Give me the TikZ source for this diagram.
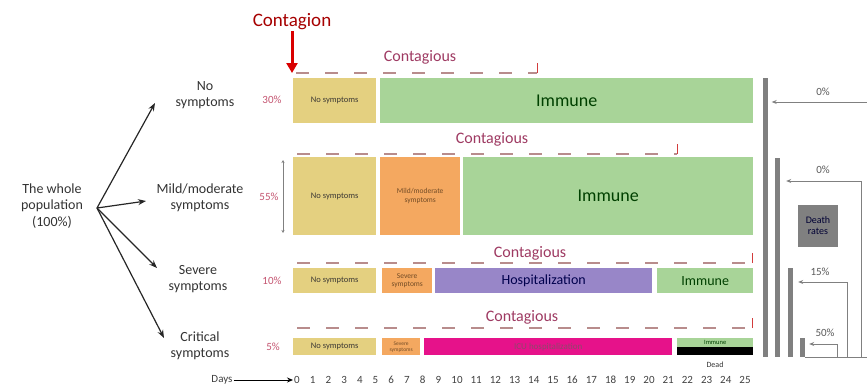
\documentclass[tikz,border=0pt]{standalone}
\usepackage{fontspec}
\setmainfont{Carlito}
\usetikzlibrary{arrows.meta}

\definecolor{symyel}{RGB}{228,208,128}
\definecolor{symorg}{RGB}{244,168,96}
\definecolor{immgrn}{RGB}{168,212,152}
\definecolor{hospvio}{RGB}{152,134,200}
\definecolor{icupink}{RGB}{230,18,138}
\definecolor{pctred}{RGB}{196,84,112}
\definecolor{contred}{RGB}{158,58,98}
\definecolor{dashgray}{RGB}{184,140,140}
\definecolor{tickred}{RGB}{210,60,60}
\definecolor{deathgray}{RGB}{128,128,128}

\begin{document}
\begin{tikzpicture}[
  x=1pt, y=-1pt,
  every node/.style={font=\fontsize{14}{16.5}\selectfont, align=center, inner sep=1pt, text=black!80},
  phase/.style={anchor=north west, inner sep=0pt, font=\fontsize{8.5}{9.5}\selectfont},
  nosym/.style={phase, fill=symyel, text=black!70!yellow!40!black},
  mildb/.style={phase, fill=symorg, text=brown!60!black},
  immune/.style={phase, fill=immgrn, text=green!25!black},
  hosp/.style={phase, fill=hospvio, text=blue!30!black, font=\fontsize{14}{16}\selectfont},
  icu/.style={phase, fill=icupink, text=magenta!50!black, font=\fontsize{9}{10}\selectfont},
  deadb/.style={phase, fill=black},
  grp/.style={font=\fontsize{14}{16.5}\selectfont},
  pct/.style={text=pctred, font=\fontsize{11}{12}\selectfont},
  cont/.style={text=contred, font=\fontsize{16}{18}\selectfont},
  contline/.style={draw=dashgray, line width=1.8pt, dash pattern=on 13pt off 16pt},
  conttick/.style={draw=tickred, line width=1pt},
  fan/.style={-{Stealth[length=8pt,width=6pt]}, line width=1.2pt, black!85},
  dayno/.style={font=\fontsize{11}{12}\selectfont, text=black!75},
  dbar/.style={anchor=south, fill=deathgray, inner sep=0pt, minimum width=5pt},
  darr/.style={draw=deathgray, line width=0.8pt, -{Stealth[length=5pt,width=4pt]}},
  dpct/.style={font=\fontsize{11}{12}\selectfont, text=black!65}
]
  \useasboundingbox (0,0) rectangle (867,388);

  % left side: population and groups
  \node (pop) at (52,206) {The whole\\population\\(100\%)};
  \coordinate (fork) at (97,208);
  \node[grp] (nosymp) at (205,95) {No\\symptoms};
  \node[grp] (mildsymp) at (200,198) {Mild/moderate\\symptoms};
  \node[grp] (sevsymp) at (198,279) {Severe\\symptoms};
  \node[grp] (critsymp) at (200,346) {Critical\\symptoms};
  \coordinate (tip1) at (155,103);
  \coordinate (tip2) at (146,201);
  \coordinate (tip3) at (157,268);
  \coordinate (tip4) at (164,338);
  \draw[fan] (fork) -- (tip1);
  \draw[fan] (fork) -- (tip2);
  \draw[fan] (fork) -- (tip3);
  \draw[fan] (fork) -- (tip4);

  \node[pct] (p1) at (272,100) {30\%};
  \node[pct] (p2) at (269,197) {55\%};
  \node[pct] (p3) at (272,281) {10\%};
  \node[pct] (p4) at (273,347) {5\%};
  \coordinate (s2top) at (283,160);
  \coordinate (s2bot) at (283,233);
  \draw[deathgray, line width=0.7pt, {Stealth[length=3pt,width=3pt]}-{Stealth[length=3pt,width=3pt]}] (s2top) -- (s2bot);

  % contagion
  \node[text=red!65!black, font=\fontsize{19}{21}\selectfont] (contag) at (292,22) {Contagion};
  \coordinate (c1s) at (296,73);
  \coordinate (c1e) at (537,73);
  \draw[red!85!black, line width=3pt, -{Triangle[length=10pt,width=11pt]}] (contag.south) -- (contag.south |- c1s);

  % row 1: no symptoms
  \node[nosym, minimum width=83pt, minimum height=45pt] (r1nos) at (293,78) {No symptoms};
  \node[immune, minimum width=373pt, minimum height=45pt, font=\fontsize{18}{20}\selectfont] (r1imm) at (380,78) {Immune};
  \draw[contline] (c1s) -- (c1e);
  \draw[conttick] (c1e) -- ++(0,-10);
  \node[cont] (cont1) at (420,57) {Contagious};

  % row 2: mild/moderate
  \node[nosym, minimum width=83pt, minimum height=78pt] (r2nos) at (293,157) {No symptoms};
  \node[mildb, minimum width=80pt, minimum height=78pt, font=\fontsize{7.5}{8.5}\selectfont] (r2mild) at (380,157) {Mild/moderate\\symptoms};
  \node[immune, minimum width=290pt, minimum height=78pt, font=\fontsize{18}{20}\selectfont] (r2imm) at (463,157) {Immune};
  \coordinate (c2s) at (297,154);
  \coordinate (c2e) at (677,154);
  \draw[contline] (c2s) -- (c2e);
  \draw[conttick] (c2e) -- ++(0,-10);
  \node[cont] (cont2) at (492,139) {Contagious};

  % row 3: severe
  \node[nosym, minimum width=83pt, minimum height=25pt] (r3nos) at (293,268) {No symptoms};
  \node[mildb, minimum width=50pt, minimum height=25pt, font=\fontsize{7.5}{8.5}\selectfont] (r3sev) at (382,268) {Severe\\symptoms};
  \node[hosp, minimum width=217pt, minimum height=25pt] (r3hosp) at (435,268) {Hospitalization};
  \node[immune, minimum width=96pt, minimum height=25pt, font=\fontsize{14}{16}\selectfont] (r3imm) at (657,268) {Immune};
  \coordinate (c3s) at (297,263);
  \coordinate (c3e) at (752,263);
  \draw[contline] (c3s) -- (c3e);
  \draw[conttick] (c3e) -- ++(0,-10);
  \node[cont] (cont3) at (530,253) {Contagious};

  % row 4: critical
  \node[nosym, minimum width=83pt, minimum height=17pt] (r4nos) at (293,338) {No symptoms};
  \node[mildb, minimum width=38pt, minimum height=17pt, font=\fontsize{5.5}{6}\selectfont] (r4sev) at (382,338) {Severe\\symptoms};
  \node[icu, minimum width=248pt, minimum height=17pt] (r4icu) at (424,338) {ICU hospitalization};
  \node[immune, minimum width=76pt, minimum height=9pt, font=\fontsize{6.5}{7}\selectfont] (r4imm) at (677,338) {Immune};
  \node[deadb, minimum width=76pt, minimum height=8pt] (r4dead) at (677,347) {};
  \node[font=\fontsize{8}{9}\selectfont] (deadlbl) at (715,365) {Dead};
  \coordinate (c4s) at (297,328);
  \coordinate (c4e) at (752,328);
  \draw[contline] (c4s) -- (c4e);
  \draw[conttick] (c4e) -- ++(0,-10);
  \node[cont] (cont4) at (522,317) {Contagious};

  % day axis
  \node[dayno] (days) at (222,380) {Days};
  \foreach \d in {0,...,25}{
    \pgfmathsetmacro{\dx}{\d<10 ? 297+15.7*\d : 457+19.2*(\d-10)}
    \node[dayno] (day\d) at (\dx,380) {\d};
  }
  \draw[-{Stealth[length=6pt,width=5pt]}, line width=1pt] (days.east) -- (day0.west);

  % death rates
  \node[dbar, minimum height=279pt] (db1) at (765,357) {};
  \node[dbar, minimum height=199pt] (db2) at (777.5,357) {};
  \node[dbar, minimum height=89pt] (db3) at (790.5,357) {};
  \node[dbar, minimum height=19pt] (db4) at (802.5,357) {};
  \coordinate (base) at (867,357);
  \draw[deathgray, line width=0.8pt] (db4.south east) -- (base);

  \coordinate (k1) at (867,102);
  \draw[darr, shorten >=4pt] (k1) -- (k1 -| db1.east);
  \node[dpct] (dr1) at (823,92) {0\%};

  \coordinate (b2) at (861,357);
  \coordinate (k2) at (861,181);
  \draw[darr, shorten >=6pt] (b2) -- (k2) -- (k2 -| db2.east);
  \node[dpct] (dr2) at (823,170) {0\%};

  \coordinate (b3) at (847,357);
  \coordinate (k3) at (847,282);
  \draw[darr, shorten >=5pt] (b3) -- (k3) -- (k3 -| db3.east);
  \node[dpct] (dr3) at (820,272) {15\%};

  \coordinate (b4) at (837,357);
  \coordinate (k4) at (837,344);
  \draw[darr, shorten >=4pt] (b4) -- (k4) -- (k4 -| db4.east);
  \node[dpct] (dr4) at (825,333) {50\%};

  \node[fill=deathgray, minimum width=40pt, minimum height=42pt, inner sep=0pt,
        text=blue!20!black, font=\fontsize{10}{11}\selectfont] (drates) at (818,226) {Death\\rates};
\end{tikzpicture}
\end{document}
